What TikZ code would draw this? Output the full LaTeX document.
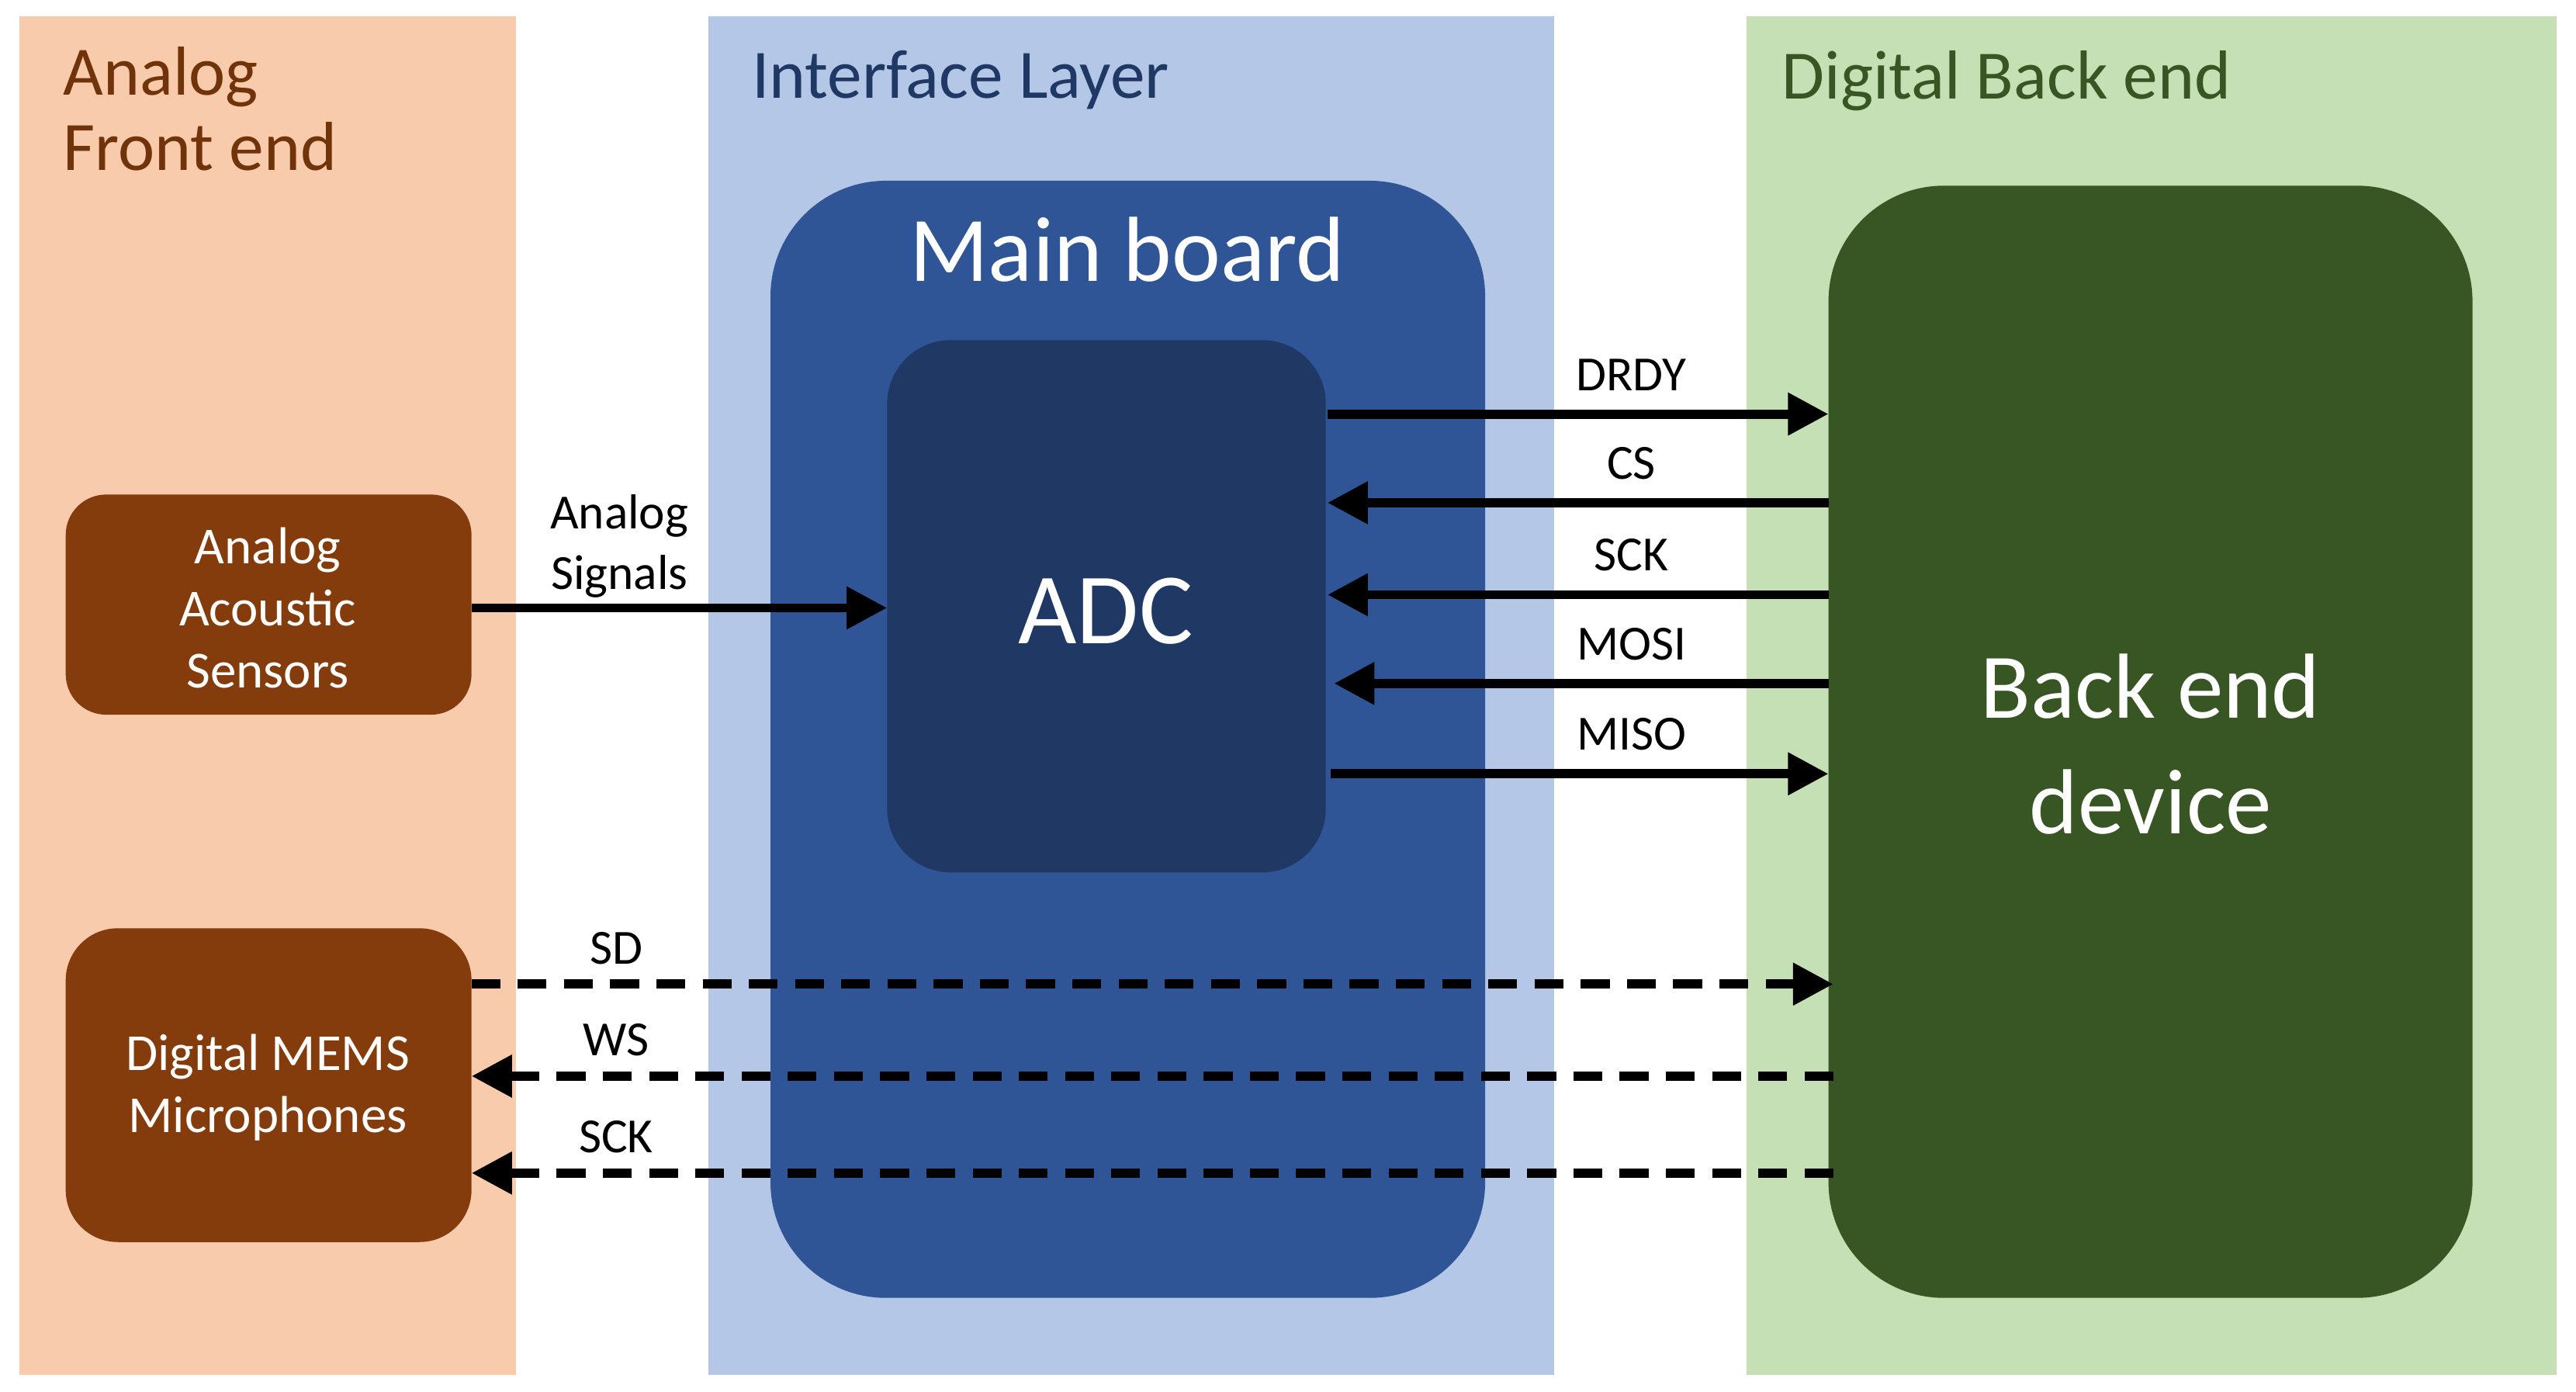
\documentclass[tikz,border=0pt]{standalone}
\usepackage{fontspec}
\setmainfont{Carlito}
\usetikzlibrary{arrows.meta}
\definecolor{pOr}{HTML}{F8CBAD}\definecolor{pBl}{HTML}{B4C7E7}\definecolor{pGr}{HTML}{C5E0B4}
\definecolor{mb}{HTML}{2F5597}\definecolor{adc}{HTML}{203864}\definecolor{be}{HTML}{375623}\definecolor{br}{HTML}{843C0C}
\begin{document}
\begin{tikzpicture}[x=0.01cm,y=-0.01cm,
 sig/.style={line width=1.6pt,-{Triangle[length=7pt,width=7pt]}},
 dsig/.style={sig,dash pattern=on 5pt off 3pt},
 lab/.style={font=\fontsize{8.5}{9}\selectfont,inner sep=1pt,anchor=south},
 ttl/.style={font=\fontsize{12}{14}\selectfont,anchor=north west,align=left,inner sep=0}]
\useasboundingbox (0,0) rectangle (1568,847);
\fill[white] (0,0) rectangle (1568,847);
\fill[pOr] (12,10) rectangle (314,837);
\fill[pBl] (431,10) rectangle (946,837);
\fill[pGr] (1063,10) rectangle (1556,837);
\node[ttl,text=br!85!black] (t1) at (38,28) {Analog\\[-1pt]Front end};
\node[ttl,text=adc] (t2) at (457,30) {Interface Layer};
\node[ttl,text=be] (t3) at (1084,30) {Digital Back end};
\fill[mb,rounded corners=20pt] (469,110) rectangle (904,790);
\node[text=white,font=\fontsize{16}{18}\selectfont] (mbt) at (686,152) {Main board};
\fill[adc,rounded corners=11pt] (540,207) rectangle (807,531);
\node[text=white,font=\fontsize{17.5}{20}\selectfont] (adcn) at (673,372) {ADC};
\coordinate (adcL) at (540,370);
\fill[be,rounded corners=20pt] (1113,113) rectangle (1505,790);
\node[text=white,align=center,font=\fontsize{16}{20}\selectfont] (ben) at (1309,453) {Back end\\device};
\fill[br,rounded corners=7pt] (40,301) rectangle (287,435);
\node[text=white,align=center,font=\fontsize{9}{10.8}\selectfont] (ans) at (163,370) {Analog\\Acoustic\\Sensors};
\fill[br,rounded corners=9pt] (40,565) rectangle (287,756);
\node[text=white,align=center,font=\fontsize{9}{10.8}\selectfont] (mems) at (163,662) {Digital MEMS\\Microphones};
\foreach \n/\y/\xa in {DRDY/252/808,CS/306/808,SCK/362/808,MOSI/416/812,MISO/471/810}{
 \coordinate (a\n) at (\xa,\y); \coordinate (b\n) at (1113,\y);
 \node[lab] (l\n) at (993,\y-10) {\n};}
\draw[sig] (aDRDY) -- (bDRDY);
\draw[sig] (bCS) -- (aCS);
\draw[sig] (bSCK) -- (aSCK);
\draw[sig] (bMOSI) -- (aMOSI);
\draw[sig] (aMISO) -- (bMISO);
\coordinate (asR) at (287,370);
\draw[sig] (asR) -- (adcL);
\node[lab,align=center,font=\fontsize{8.5}{10.5}\selectfont,anchor=south] (lan) at (377,368) {Analog\\Signals};
\foreach \n/\y/\t in {SD/599/SD,WS/655/WS,SK/714/SCK}{
 \coordinate (m\n) at (287,\y); \coordinate (e\n) at (1116,\y);
 \node[lab] (d\n) at (375,\y-8) {\t};}
\draw[dsig] (mSD) -- (eSD);
\draw[dsig] (eWS) -- (mWS);
\draw[dsig] (eSK) -- (mSK);
\end{tikzpicture}
\end{document}
